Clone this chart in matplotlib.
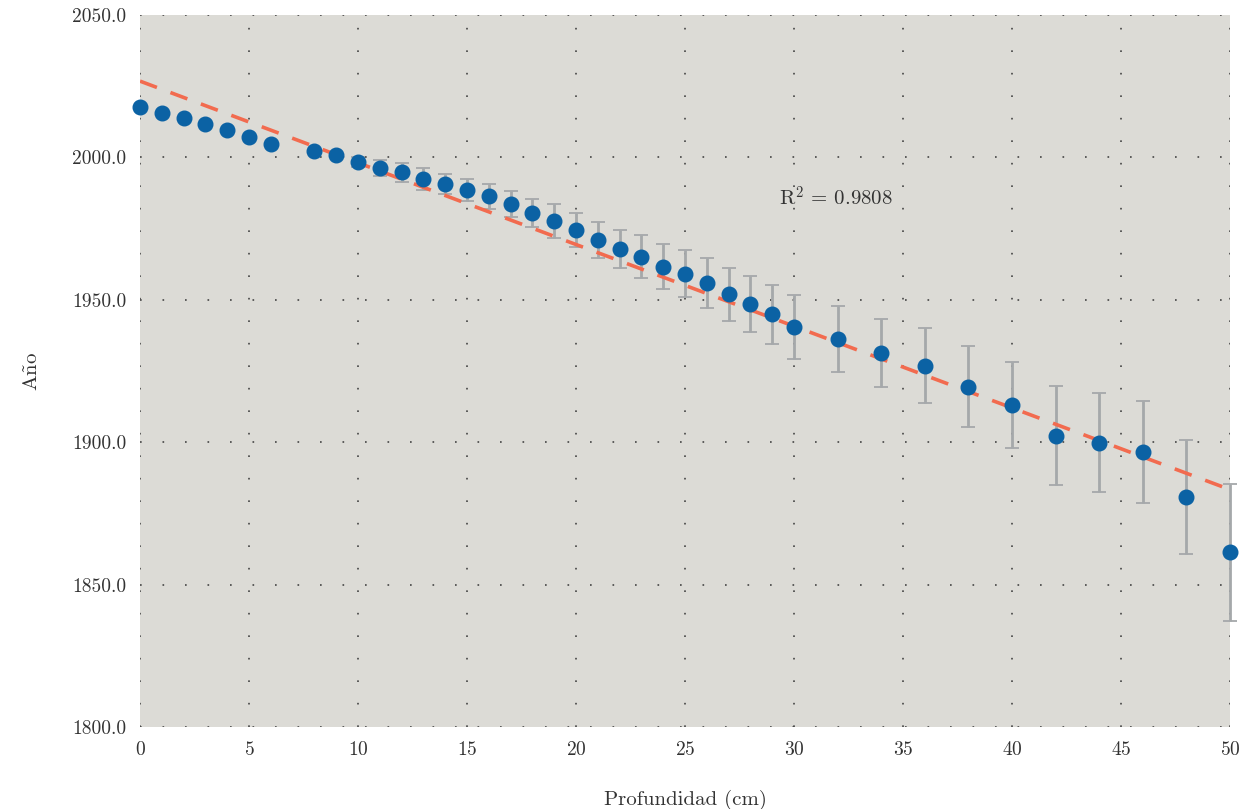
import numpy as np
import matplotlib
matplotlib.use('Agg')
import matplotlib.pyplot as plt

# profundidad (cm), año estimado y error
prof = [0, 1, 2, 3, 4, 5, 6, 8, 9, 10, 11, 12, 13, 14, 15, 16, 17, 18, 19, 20,
        21, 22, 23, 24, 25, 26, 27, 28, 29, 30, 32, 34, 36, 38, 40, 42, 44, 46, 48, 50]
anio = [2017.7, 2015.6, 2013.8, 2011.7, 2009.6, 2007.2, 2004.7, 2002.2, 2000.8, 1998.5,
        1996.4, 1994.7, 1992.4, 1990.7, 1988.6, 1986.4, 1983.6, 1980.5, 1977.7, 1974.5,
        1971.0, 1967.8, 1965.1, 1961.6, 1959.1, 1955.8, 1951.9, 1948.5, 1944.9, 1940.3,
        1936.2, 1931.4, 1926.8, 1919.5, 1913.0, 1902.3, 1899.8, 1896.5, 1880.9, 1861.3]
err = [0, 0, 0, 0, 0, 0, 0, 0, 0, 1.8,
       2.8, 3.2, 3.7, 3.5, 3.8, 4.4, 4.6, 4.9, 5.9, 5.9,
       6.3, 6.8, 7.5, 7.9, 8.2, 8.7, 9.2, 9.7, 10.4, 11.2,
       11.7, 12.0, 13.2, 14.3, 15.1, 17.5, 17.4, 17.8, 20.0, 24.0]
r2_text = r'R$^2$ = 0.9808'

plt.rcParams['font.family'] = ['cmr10', 'DejaVu Serif']
plt.rcParams['mathtext.fontset'] = 'cm'
plt.rcParams['axes.formatter.use_mathtext'] = True

x = np.array(prof, dtype=float)
y = np.array(anio)
e = np.array(err)

fig = plt.figure(figsize=(12.59, 8.09), dpi=100)
ax = fig.add_axes([0.1112, 0.1014, 0.8658, 0.8801])
ax.set_facecolor('#dcdbd6')
for s in ax.spines.values():
    s.set_visible(False)

m = e > 0
eb = ax.errorbar(x[m], y[m], yerr=e[m], fmt='none', ecolor='#a5a8aa', elinewidth=2,
                 capsize=5, capthick=1.3, zorder=2)
for art in eb.lines[1] + eb.lines[2]:
    art.set_clip_on(False)

coef = np.polyfit(x, y, 1)
xf = np.array([0, 50])
ax.plot(xf, np.polyval(coef, xf), '--', color='#f26b4f', lw=2.6, dashes=(5, 4), zorder=3)

ax.plot(x, y, 'o', color='#0b62a4', ms=10.5, zorder=4, clip_on=False)

ax.text(31.9, 1985.7, r2_text, fontsize=15, ha='center', va='center', color='#333333')

ax.set_xlim(0, 50)
ax.set_ylim(1800, 2050)
ax.set_xticks(np.arange(0, 51, 5))
ax.set_yticks(np.arange(1800, 2051, 50))
ax.yaxis.set_major_formatter(matplotlib.ticker.FormatStrFormatter('%.1f'))
ax.tick_params(length=0, labelsize=14, labelcolor='#333333', pad=10)
ax.grid(True, color='#444444', lw=1.2, linestyle=(0, (1, 12.5)))
ax.set_axisbelow(True)

ax.set_xlabel('Profundidad (cm)', fontsize=15, color='#333333', labelpad=22)
ax.set_ylabel(r'A$\tilde{\mathrm{n}}$o', fontsize=15, color='#333333', labelpad=22)

fig.savefig('out.png', dpi=100)
